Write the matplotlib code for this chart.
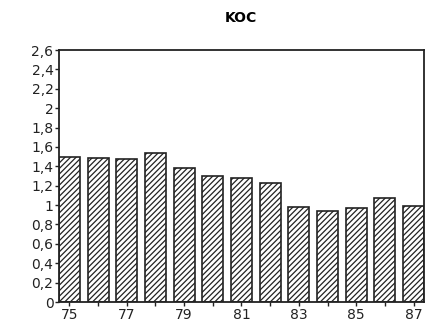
import matplotlib
matplotlib.use('Agg')
import matplotlib.pyplot as plt

plt.rcParams['font.family'] = ['DejaVu Sans Condensed', 'Liberation Sans Narrow', 'DejaVu Sans']
plt.rcParams['hatch.linewidth'] = 0.9

years = ['75', '76', '77', '78', '79', '80', '81', '82', '83', '84', '85', '86', '87']
koc = [1.50, 1.49, 1.48, 1.54, 1.38, 1.30, 1.28, 1.23, 0.98, 0.94, 0.97, 1.07, 0.99]
yticks = [0, 0.2, 0.4, 0.6, 0.8, 1, 1.2, 1.4, 1.6, 1.8, 2, 2.2, 2.4, 2.6]
ylabels = ['0', '0,2', '0,4', '0,6', '0,8', '1', '1,2', '1,4', '1,6', '1,8', '2', '2,2', '2,4', '2,6']

fig = plt.figure(figsize=(4.35, 3.26), dpi=100)
ax = fig.add_axes([59 / 435, 24 / 326, 365 / 435, 252 / 326])

w = 0.73
pos = list(range(len(years)))
ax.bar(pos, koc, width=w, color='white', edgecolor='#222222', hatch='//////', linewidth=1.2)

ax.set_xlim(-w / 2, len(years) - 1 + w / 2)
ax.set_ylim(0, 2.6)
ax.set_yticks(yticks)
ax.set_yticklabels(ylabels)
ax.set_xticks(pos)
ax.set_xticklabels([y if i % 2 == 0 else '' for i, y in enumerate(years)])
ax.tick_params(labelsize=10, length=3, width=1, pad=1, colors='#222222')
for s in ax.spines.values():
    s.set_linewidth(1.3)
    s.set_color('#222222')

fig.text(241 / 435, 1 - 18 / 326, 'KOC', ha='center', va='center', fontsize=10, fontweight='bold')

fig.savefig('out.png', dpi=100)
